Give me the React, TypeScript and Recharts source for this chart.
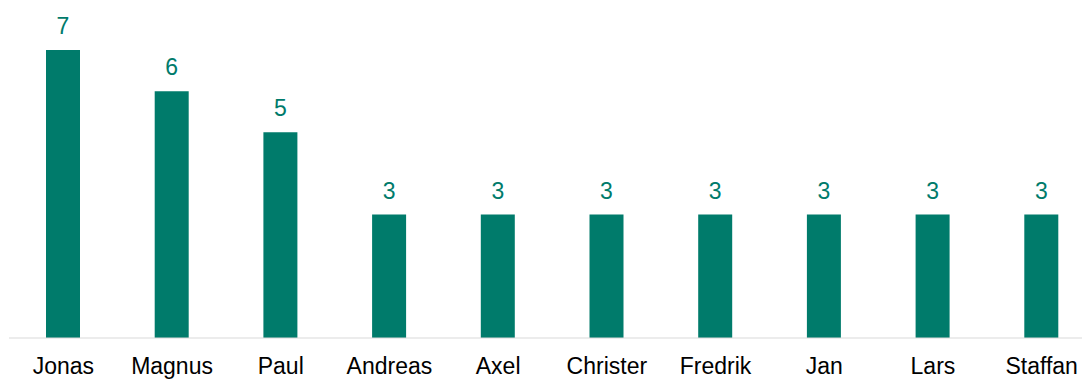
import { BarChart, Bar, XAxis, YAxis, LabelList } from "recharts";

const names = ["Jonas", "Magnus", "Paul", "Andreas", "Axel", "Christer", "Fredrik", "Jan", "Lars", "Staffan"];
const counts = [7, 6, 5, 3, 3, 3, 3, 3, 3, 3];

const data = names.map((name, i) => ({ name, count: counts[i] }));

const TEAL = "#007B6B";
const FONT = "'Liberation Sans', Arial, sans-serif";

export default function App() {
  return (
    <div style={{ position: "absolute", left: 0, top: 0, width: 1082, height: 379, overflow: "hidden", background: "#fff" }}>
      <BarChart
        width={1096}
        height={379}
        data={data}
        margin={{ top: 50, right: 0, left: 9, bottom: 11 }}
      >
        <XAxis
          dataKey="name"
          axisLine={{ stroke: "#d9d9d9", strokeWidth: 1 }}
          tickLine={false}
          tickMargin={14}
          interval={0}
          tick={{ fill: "#000", fontSize: 23, fontFamily: FONT }}
        />
        <YAxis hide domain={[0, 7]} />
        <Bar dataKey="count" fill={TEAL} barSize={34} isAnimationActive={false}>
          <LabelList
            dataKey="count"
            position="top"
            offset={16}
            style={{ fill: TEAL, fontSize: 23, fontFamily: FONT }}
          />
        </Bar>
      </BarChart>
    </div>
  );
}
